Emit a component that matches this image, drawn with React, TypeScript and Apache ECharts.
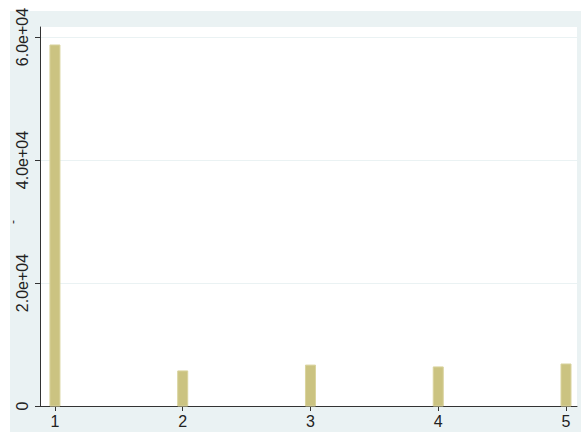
import React, { useEffect, useRef } from "react";
import * as echarts from "echarts";

const categories = [1, 2, 3, 4, 5];
const values = [58700, 5700, 6650, 6350, 6830];
const yTicks = [0, 20000, 40000, 60000];
const yTitle = "-";

export default function App() {
  const ref = useRef<HTMLDivElement>(null);
  useEffect(() => {
    const chart = echarts.init(ref.current!, null, { renderer: "svg" });
    const fmt = (v: number) => (v === 0 ? "0" : (v / 1e4).toFixed(1) + "e+04");
    chart.setOption({
      animation: false,
      textStyle: { fontFamily: "Liberation Sans, Arial, sans-serif" },
      graphic: [
        {
          type: "rect",
          left: 10,
          top: 11,
          shape: { width: 571, height: 421 },
          style: { fill: "#EAF2F3" },
          z: -10,
        },
        {
          type: "text",
          x: 13,
          y: 222,
          rotation: Math.PI / 2,
          style: {
            text: yTitle,
            fill: "#222",
            font: "12px Liberation Sans, Arial, sans-serif",
            align: "center",
            verticalAlign: "middle",
          },
        },
      ],
      grid: {
        left: 40,
        top: 27,
        right: 4,
        bottom: 26,
        show: true,
        backgroundColor: "#ffffff",
        borderWidth: 0,
        containLabel: false,
        outerBoundsMode: "none",
      },
      xAxis: {
        type: "value",
        min: 0.883,
        max: 5.086,
        axisLine: { show: true, lineStyle: { color: "#333", width: 1 }, onZero: false },
        axisTick: { show: true, customValues: categories, length: 5, lineStyle: { color: "#333" } },
        axisLabel: {
          customValues: categories,
          color: "#222",
          fontSize: 16,
          margin: 7,
          formatter: (v: number) => String(v),
        },
        splitLine: { show: false },
      },
      yAxis: {
        type: "value",
        min: 0,
        max: 61626,
        interval: 20000,
        axisLine: { show: true, lineStyle: { color: "#333", width: 1 } },
        axisTick: { show: true, customValues: yTicks, length: 5, lineStyle: { color: "#333" } },
        axisLabel: {
          customValues: yTicks,
          rotate: 90,
          color: "#222",
          fontSize: 16,
          margin: 10,
          formatter: fmt,
        },
        splitLine: { show: true, lineStyle: { color: "#EAF2F3", width: 1 } },
      },
      series: [
        {
          type: "custom",
          data: categories.map((c, i) => [c, values[i]]),
          renderItem: (params: any, api: any) => {
            const x = api.value(0);
            const y = api.value(1);
            const top = api.coord([x, y]);
            const base = api.coord([x, 0]);
            const w = 10;
            return {
              type: "rect",
              shape: { x: top[0] - w / 2, y: top[1], width: w, height: base[1] - top[1] },
              style: { fill: "#CBC381", stroke: "#D9D39E", lineWidth: 1 },
            };
          },
        },
      ],
    });
    return () => chart.dispose();
  }, []);
  return (
    <div
      ref={ref}
      style={{ position: "fixed", left: 0, top: 0, width: 581, height: 432, background: "#fff" }}
    />
  );
}
